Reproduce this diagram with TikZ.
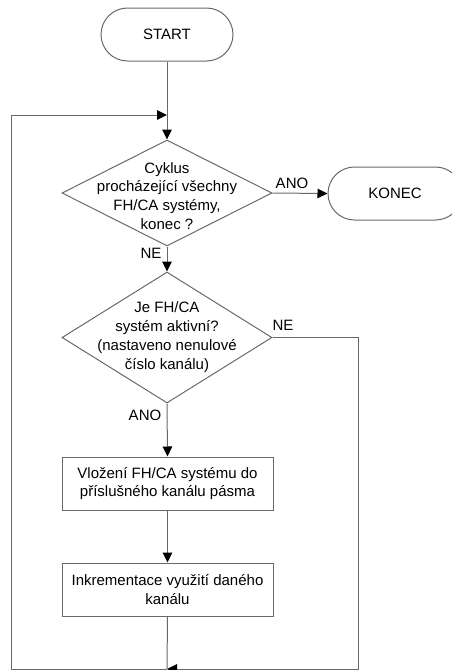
\documentclass[tikz,border=0pt]{standalone}
\usepackage{fontspec}
\setmainfont{Liberation Sans}
\usetikzlibrary{shapes.geometric,shapes.misc,arrows.meta}
\definecolor{linegray}{RGB}{105,105,105}
\tikzset{
  base/.style={draw=linegray, line width=1pt},
  term/.style={base, rounded rectangle, minimum width=132pt, minimum height=53pt, inner sep=0pt},
  dia/.style={base, diamond, minimum width=210pt, minimum height=106pt, inner sep=0pt},
  dia2/.style={base, diamond, minimum width=210pt, minimum height=131pt, inner sep=0pt},
  proc/.style={base, rectangle, minimum width=211pt, minimum height=53pt, inner sep=0pt, align=center},
  txt/.style={align=center, inner sep=0pt},
  conn/.style={draw=linegray, line width=1pt},
  arr/.style={conn, -{Triangle[length=10pt,width=9.5pt,black]}},
  lab/.style={inner sep=0pt}
}
\begin{document}
\begin{tikzpicture}[x=1pt,y=-1pt,font=\fontsize{15}{18.8}\selectfont]
\useasboundingbox (0,0) rectangle (451,670);
\node[term] (start) at (167,34.5) {START};
\node[dia] (d1) at (167,193) {};
\node[txt] (t1) at (167,196) {Cyklus\\procházející všechny\\FH/CA systémy,\\konec ?};
\node[term, minimum width=134pt] (konec) at (395,193.5) {KONEC};
\node[dia2] (d2) at (167,337.5) {};
\node[txt] (t2) at (167,337) {Je FH/CA\\systém aktivní?\\(nastaveno nenulové\\číslo kanálu)};
\node[proc] (b1) at (167.5,483.5) {Vložení FH/CA systému do\\příslušného kanálu pásma};
\node[proc] (b2) at (167.5,589.5) {Inkrementace využití daného\\kanálu};
\coordinate (loopin) at (167,115);
\coordinate (bot) at (167,669);
\coordinate (rt) at (358,337.5);
\coordinate (rb) at (358,669);
\coordinate (lb) at (11,669);
\coordinate (lt) at (11,115);
\draw[arr] (start.south) -- (d1.north);
\draw[arr] (d1.east) -- (konec.west);
\draw[arr] (d1.south) -- (d2.north);
\draw[arr] (d2.south) -- (b1.north);
\draw[arr] (b1.south) -- (b2.north);
\draw[conn] (b2.south) -- (bot);
\draw[arr] (d2.east) -- (rt) -- (rb) -- (bot);
\draw[arr] (bot) -- (lb) -- (lt) -- (loopin);
\node[lab] (lano1) at (292,183) {ANO};
\node[lab] (lne1) at (151,253) {NE};
\node[lab] (lne2) at (283,325) {NE};
\node[lab] (lano2) at (145,415) {ANO};
\end{tikzpicture}
\end{document}
